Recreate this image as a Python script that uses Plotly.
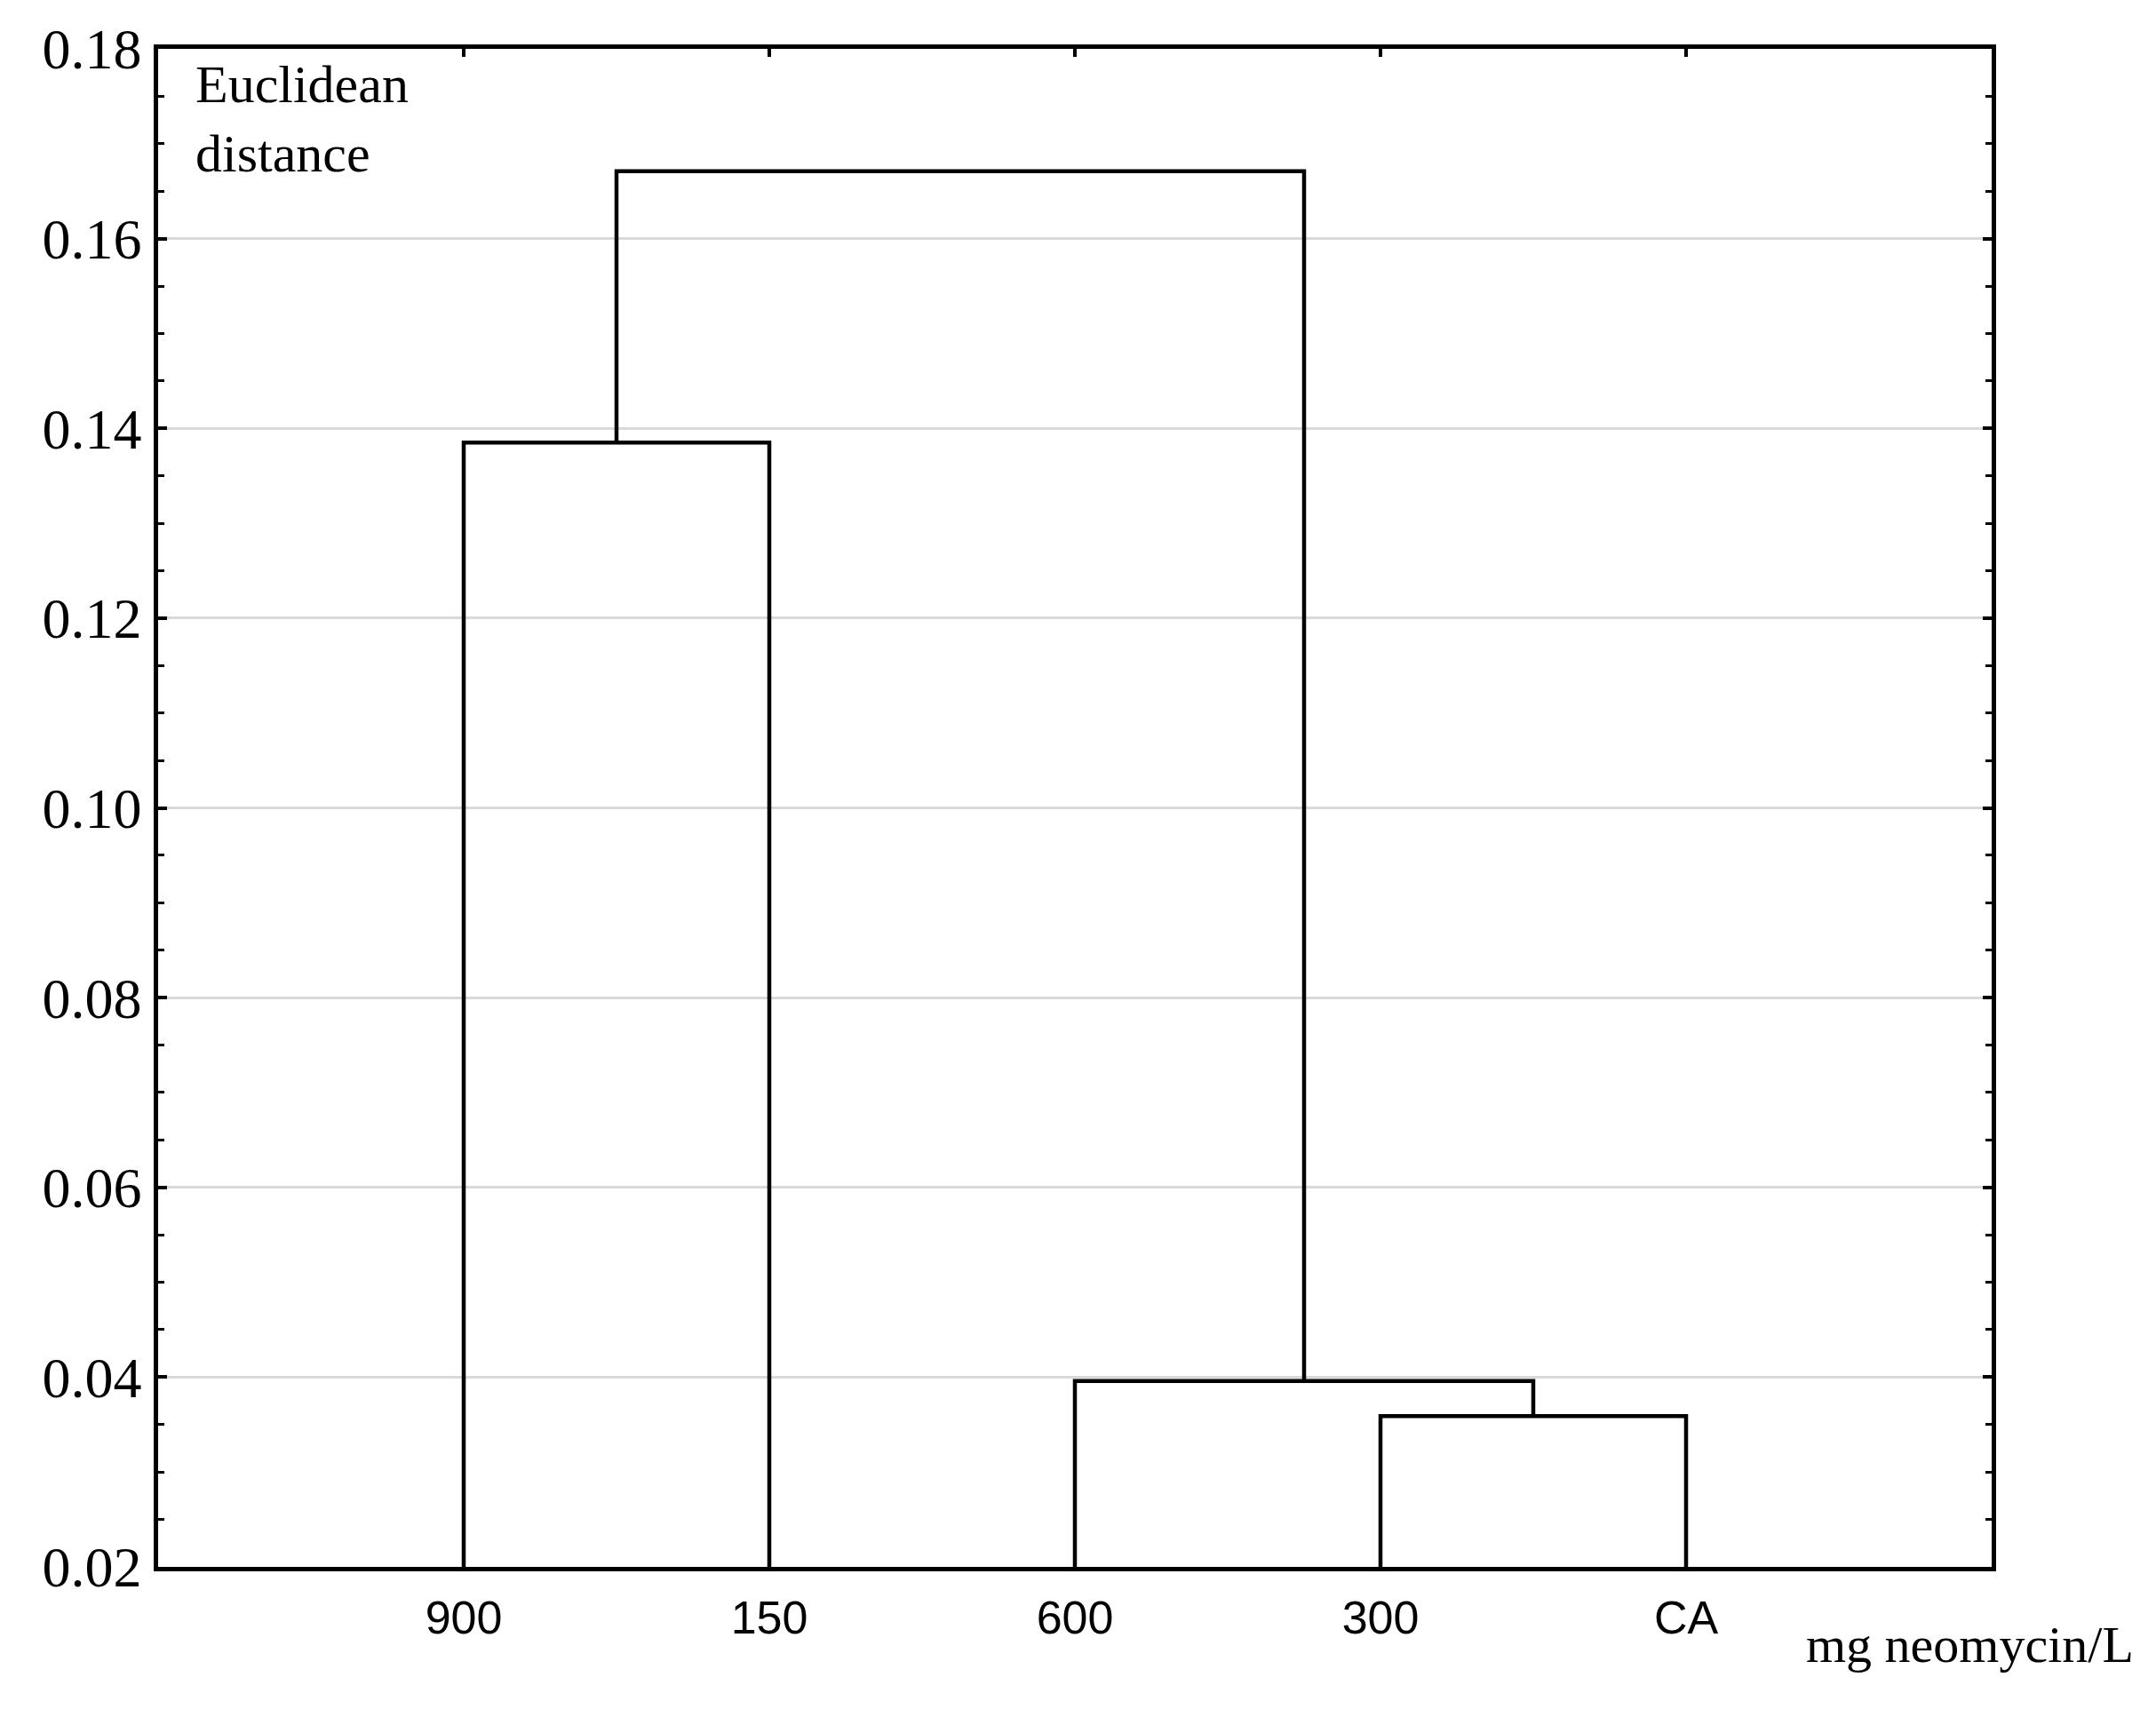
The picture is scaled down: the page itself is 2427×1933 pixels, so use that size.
import plotly.graph_objects as go

# ---- data ----
leaves = ["900", "150", "600", "300", "CA"]
# linkage rows: (node_a, node_b, distance); leaves are 0..4, new clusters 5,6,...
links_a = [3, 2, 0, 7]
links_b = [4, 5, 1, 6]
link_dist = [0.0359, 0.0396, 0.1385, 0.1671]

y_ticks = [0.02, 0.04, 0.06, 0.08, 0.10, 0.12, 0.14, 0.16, 0.18]
y_tick_text = ["0.02", "0.04", "0.06", "0.08", "0.10", "0.12", "0.14", "0.16", "0.18"]
y_range = [0.02, 0.18]

# ---- build dendrogram geometry from the linkage ----
node_x = {i: float(i + 1) for i in range(len(leaves))}
node_h = {i: y_range[0] for i in range(len(leaves))}

fig = go.Figure()
for k, (a, b, d) in enumerate(zip(links_a, links_b, link_dist)):
    new_id = len(leaves) + k
    xa, xb = node_x[a], node_x[b]
    ha, hb = node_h[a], node_h[b]
    fig.add_trace(go.Scatter(
        x=[xa, xa, xb, xb], y=[ha, d, d, hb], mode="lines",
        line=dict(color="black", width=4.5), showlegend=False, hoverinfo="skip",
    ))
    node_x[new_id] = (xa + xb) / 2
    node_h[new_id] = d

serif = "Liberation Serif, Times New Roman, serif"

fig.update_layout(
    width=2427, height=1933,
    margin=dict(l=170, r=193, t=42, b=177),
    paper_bgcolor="white", plot_bgcolor="white",
    showlegend=False,
)
fig.update_xaxes(
    range=[0, len(leaves) + 1],
    tickvals=list(range(1, len(leaves) + 1)), ticktext=leaves,
    ticks="inside", ticklen=9, tickwidth=3.5, tickcolor="black",
    showgrid=False, zeroline=False,
    showline=True, linecolor="black", linewidth=4.5, mirror="allticks",
    tickfont=dict(family="Liberation Sans Narrow, Liberation Sans, Arial, sans-serif", size=52, color="black"),
    ticklabelstandoff=8,
)
fig.update_yaxes(
    range=y_range,
    tickvals=y_ticks, ticktext=y_tick_text,
    ticks="inside", ticklen=10, tickwidth=3.5, tickcolor="black",
    minor=dict(dtick=0.005, tick0=0.02, ticks="inside", ticklen=7, tickwidth=3, tickcolor="black", showgrid=False),
    showgrid=True, gridcolor="#d9d9d9", gridwidth=3, zeroline=False,
    showline=True, linecolor="black", linewidth=4.5, mirror="allticks",
    tickfont=dict(family=serif, size=64, color="black"),
    ticklabelstandoff=1,
)

fig.add_annotation(
    xref="paper", yref="paper", x=(214 - 174) / 2068, y=0.997,
    xanchor="left", yanchor="top", align="left", showarrow=False,
    text="Euclidean<br>distance",
    font=dict(family=serif, size=60, color="black"),
)
fig.add_annotation(
    xref="paper", yref="paper", x=(2404 - 174) / 2068, y=-(1852 - 1764) / 1714,
    xanchor="right", yanchor="middle", showarrow=False,
    text="mg neomycin/L",
    font=dict(family=serif, size=58, color="black"),
)

fig.write_html("out.html")
